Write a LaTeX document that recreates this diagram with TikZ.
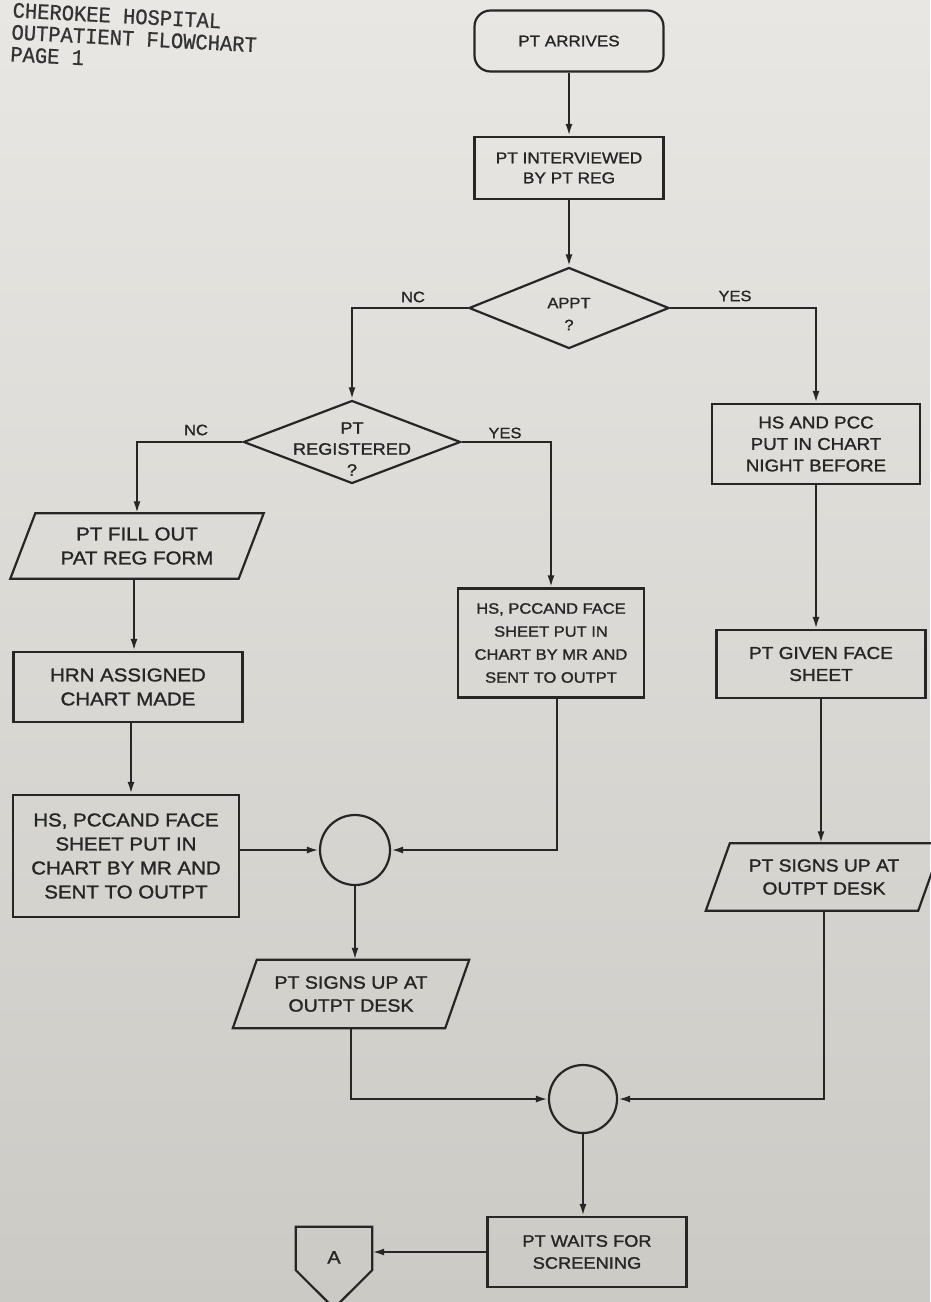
\documentclass[tikz,border=0pt]{standalone}
\usepackage{fontspec}
\newfontfamily\plotfont[FakeStretch=1.1,FakeBold=1.3]{Liberation Sans}
\newfontfamily\typefont[FakeStretch=0.93,FakeBold=0.8]{Liberation Mono}
\usetikzlibrary{shapes.geometric,arrows.meta,calc}
\definecolor{ink}{HTML}{262626}
\definecolor{typeink}{HTML}{343434}
\definecolor{papertop}{HTML}{E8E7E3}
\definecolor{paperbot}{HTML}{CCCAC5}
\begin{document}
\begin{tikzpicture}[x=1pt,y=-1pt,
  fs/.style 2 args={font=\plotfont\fontsize{#1}{#2}\selectfont},
  stroke/.style={draw=ink,line width=2.2pt},
  flow/.style={stroke,-{Latex[length=12pt,width=7pt]}},
  proc/.style={stroke,rectangle,align=center,text=ink,inner sep=0pt},
  term/.style={proc,rounded corners=16pt},
  decision/.style={stroke,diamond,inner sep=0pt},
  io/.style={rectangle,align=center,text=ink,inner sep=0pt},
  junction/.style={stroke,circle,inner sep=0pt},
  branch/.style={text=ink,fs={15}{18}},
]
% page
\useasboundingbox (0,0) rectangle (930,1302);
\shade[top color=papertop,bottom color=paperbot] (0,0) rectangle (930,1302);

% typed heading
\node[text=typeink,font=\typefont\fontsize{22}{22}\selectfont,align=left,
      anchor=north west,rotate=-3,inner sep=0pt] (head) at (13,2.5)
  {CHEROKEE HOSPITAL\\OUTPATIENT FLOWCHART\\PAGE 1};

% main column
\node[term,fs={15.5}{20},minimum width=189pt,minimum height=61pt] (arrive) at (569,41) {PT ARRIVES};
\node[proc,fs={15.7}{20},minimum width=189pt,minimum height=62pt] (interv) at (569,168) {PT INTERVIEWED\\BY PT REG};
\node[decision,minimum width=200pt,minimum height=81pt] (appt) at (569,308) {};
\node[text=ink,fs={15}{22},align=center] (apptq) at ([yshift=-6]appt.center) {APPT\\?};

% no appointment branch
\node[decision,minimum width=217pt,minimum height=83pt] (reg) at (352,442) {};
\node[text=ink,fs={16.5}{21},align=center] (regq) at ([yshift=-7]reg.center) {PT\\REGISTERED\\?};

% not registered
\node[io,fs={18.6}{24},minimum width=228pt,minimum height=65pt] (fill) at (137,546) {PT FILL OUT\\PAT REG FORM};
\draw[stroke,line join=miter] ([xshift=12.5]fill.north west) -- ([xshift=12.5]fill.north east)
  -- ([xshift=-12.5]fill.south east) -- ([xshift=-12.5]fill.south west) -- cycle;
\node[proc,fs={18.6}{24},minimum width=229pt,minimum height=70pt] (hrn) at (128,687) {HRN ASSIGNED\\CHART MADE};
\node[proc,fs={18.6}{24},minimum width=226pt,minimum height=122pt] (hsL) at (126,856) {HS, PCCAND FACE\\SHEET PUT IN\\CHART BY MR AND\\SENT TO OUTPT};

% registered
\node[proc,fs={15}{23},minimum width=186pt,minimum height=109pt] (hsM) at (551,643) {HS, PCCAND FACE\\SHEET PUT IN\\CHART BY MR AND\\SENT TO OUTPT};

% appointment branch
\node[proc,fs={17}{21.5},minimum width=208pt,minimum height=80pt] (night) at (816,444) {HS AND PCC\\PUT IN CHART\\NIGHT BEFORE};
\node[proc,fs={17.3}{22},minimum width=209pt,minimum height=68pt] (given) at (821,664) {PT GIVEN FACE\\SHEET};
\node[io,fs={17.5}{23},minimum width=212pt,minimum height=67pt] (signR) at (824,877) {PT SIGNS UP AT\\OUTPT DESK};
\draw[stroke,line join=miter] ([xshift=12]signR.north west) -- ([xshift=12]signR.north east)
  -- ([xshift=-12]signR.south east) -- ([xshift=-12]signR.south west) -- cycle;

% merge points
\node[junction,minimum size=70pt] (c1) at (355,850) {};
\node[io,fs={17.8}{23},minimum width=212pt,minimum height=68pt] (signL) at (351,994) {PT SIGNS UP AT\\OUTPT DESK};
\draw[stroke,line join=miter] ([xshift=12]signL.north west) -- ([xshift=12]signL.north east)
  -- ([xshift=-12]signL.south east) -- ([xshift=-12]signL.south west) -- cycle;
\node[junction,minimum size=68pt] (c2) at (583,1099) {};
\node[proc,fs={16.6}{22},minimum width=199pt,minimum height=70pt] (wait) at (587,1252) {PT WAITS FOR\\SCREENING};

% off-page connector
\node[io,fs={18}{18},minimum width=76pt,minimum height=43pt] (offA) at (334,1248.5) {\raisebox{-15pt}[0pt][0pt]{A}};
\draw[stroke,line join=miter] (offA.south west) -- (offA.north west) -- (offA.north east)
  -- (offA.south east) -- ($(offA.south)+(0,38)$) -- cycle;

% connectors
\draw[flow] (arrive.south) -- (interv.north);
\draw[flow] (interv.south) -- (appt.north);
\draw[flow] (appt.west) -| (reg.north);
\draw[flow] (appt.east) -| (night.north);
\draw[flow] (reg.west) -| (fill.north);
\draw[flow] (reg.east) -| (hsM.north);
\draw[flow] ([xshift=-3]fill.south) -- ([xshift=-3]fill.south |- hrn.north);
\draw[flow] ([xshift=3]hrn.south) -- ([xshift=3]hrn.south |- hsL.north);
\draw[flow] (hsL.east |- c1.west) -- (c1.west);
\draw[flow] ([xshift=6]hsM.south) |- (c1.east);
\draw[flow] (c1.south) -- (c1.south |- signL.north);
\draw[flow] (night.south) -- (night.south |- given.north);
\draw[flow] (given.south) -- (given.south |- signR.north);
\draw[flow] (signL.south) |- (c2.west);
\draw[flow] (signR.south) |- (c2.east);
\draw[flow] (c2.south) -- (c2.south |- wait.north);
\draw[flow] (wait.west) -- (wait.west -| offA.east);

% branch labels
\node[branch] (apptno) at (413,297) {NC};
\node[branch] (apptyes) at (735,296) {YES};
\node[branch] (regno) at (196,430) {NC};
\node[branch] (regyes) at (505,433) {YES};
\end{tikzpicture}
\end{document}
